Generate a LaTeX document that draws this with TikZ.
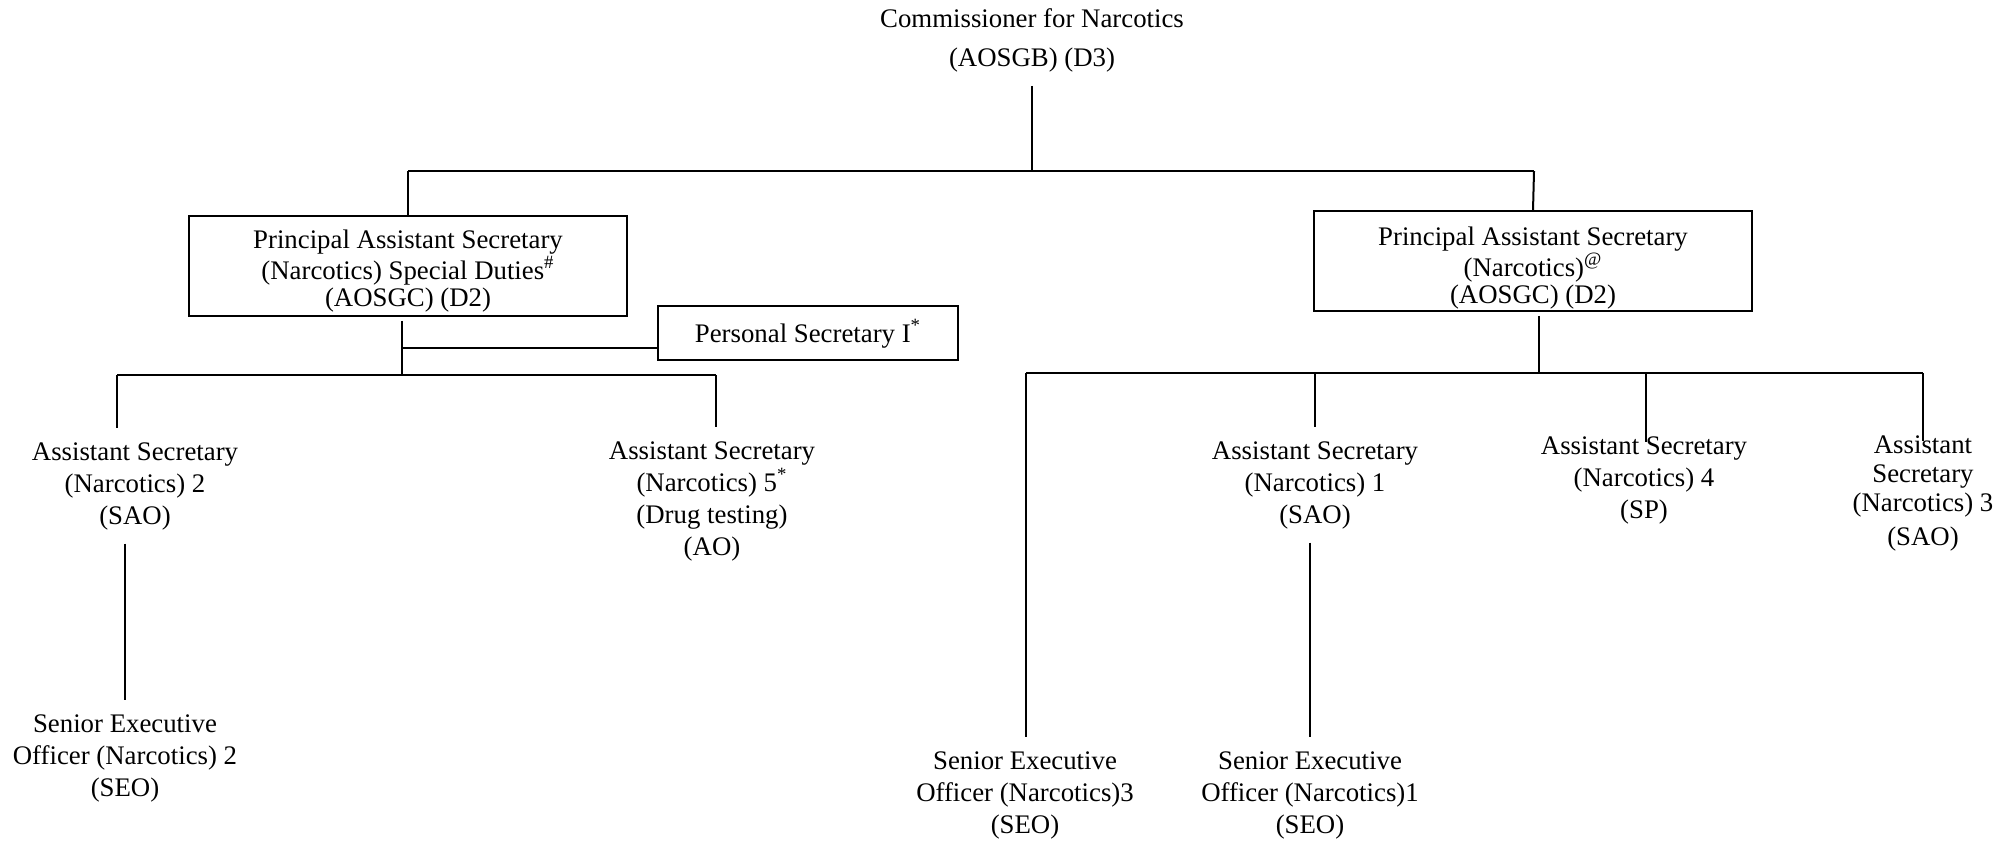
\documentclass[tikz,border=0pt]{standalone}
\usepackage{fontspec}
\setmainfont{Liberation Serif}
\begin{document}
\begin{tikzpicture}[x=0.5pt, y=-0.5pt]
	\tikzset{
		post/.style={align=center, inner sep=0pt, outer ysep=7pt, font=\fontsize{13.4}{16}\selectfont},
		postbox/.style={draw, line width=0.75pt, align=center, inner sep=0pt, font=\fontsize{13.4}{13.6}\selectfont},
		link/.style={line width=1pt},
	}
	\useasboundingbox (0,0) rectangle (2016,840);
	% commissioner
	\node[post, font=\fontsize{13.4}{19.5}\selectfont] (comm) at (1032,40) {Commissioner for Narcotics\\(AOSGB) (D3)};
	% principal assistant secretaries
	\node[postbox, minimum width=219pt, minimum height=50pt] (pasS) at (408,266)
		{\rule{0pt}{14.3pt}Principal Assistant Secretary\\(Narcotics) Special Duties\textsuperscript{\#}\\(AOSGC) (D2)};
	\node[postbox, minimum width=219pt, minimum height=50pt] (pasN) at (1533,261)
		{\rule{0pt}{16.3pt}Principal Assistant Secretary\\(Narcotics)\textsuperscript{@}\\(AOSGC) (D2)};
	\node[postbox, minimum width=150pt, minimum height=27pt] (ps) at (808,333) {\rule{0pt}{12.3pt}Personal Secretary I\textsuperscript{*}};
	% assistant secretaries
	\node[post] (as2) at (135,486) {Assistant Secretary\\(Narcotics) 2\\(SAO)};
	\node[post] (as5) at (712,501) {Assistant Secretary\\(Narcotics) 5\textsuperscript{*}\\(Drug testing)\\(AO)};
	\node[post] (as1) at (1315,485) {Assistant Secretary\\(Narcotics) 1\\(SAO)};
	\node[post, outer ysep=-3pt] (as4) at (1644,480) {Assistant Secretary\\(Narcotics) 4\\(SP)};
	\node[post, outer ysep=-3pt, font=\fontsize{13.4}{14.5}\selectfont] (as3) at (1923,493)
		{Assistant\\Secretary\\(Narcotics) 3\\[2.5pt](SAO)};
	% senior executive officers
	\node[post] (seo2) at (125,758) {Senior Executive\\Officer (Narcotics) 2\\(SEO)};
	\node[post] (seo3) at (1025,795) {Senior Executive\\Officer (Narcotics)3\\(SEO)};
	\node[post] (seo1) at (1310,795) {Senior Executive\\Officer (Narcotics)1\\(SEO)};
	% junctions
	\coordinate (topL) at (408,171);
	\coordinate (topR) at (1534,171);
	\coordinate (sdJ) at (402,375);
	\coordinate (psJ) at (402,348);
	\coordinate (sdL) at (117,375);
	\coordinate (sdR) at (716,375);
	\coordinate (nJ) at (1539,373);
	\coordinate (nL) at (1026,373);
	\coordinate (nR) at (1923,373);
	\coordinate (n1) at (1315,373);
	\coordinate (n4) at (1646,373);
	% connectors
	\draw[link] (comm.south) -- (comm.south |- topL);
	\draw[link] (topL) -- (topR);
	\draw[link] (topL) -- (pasS.north);
	\draw[link] (topR) -- (pasN.north);
	\draw[link, shorten <=2pt] (pasS.south -| sdJ) -- (sdJ);
	\draw[link] (psJ) -- (psJ -| ps.west);
	\draw[link] (sdL) -- (sdR);
	\draw[link] (sdL) -- (as2.north -| sdL);
	\draw[link] (sdR) -- (as5.north -| sdR);
	\draw[link] (seo2.north |- as2.south) -- (seo2.north);
	\draw[link, shorten <=2pt] (pasN.south -| nJ) -- (nJ);
	\draw[link] (nL) -- (nR);
	\draw[link] (nL) -- (seo3.north -| nL);
	\draw[link] (n1) -- (as1.north);
	\draw[link] (n4) -- (as4.north -| n4);
	\draw[link] (nR) -- (as3.north);
	\draw[link] (seo1.north |- as1.south) -- (seo1.north);
\end{tikzpicture}
\end{document}
